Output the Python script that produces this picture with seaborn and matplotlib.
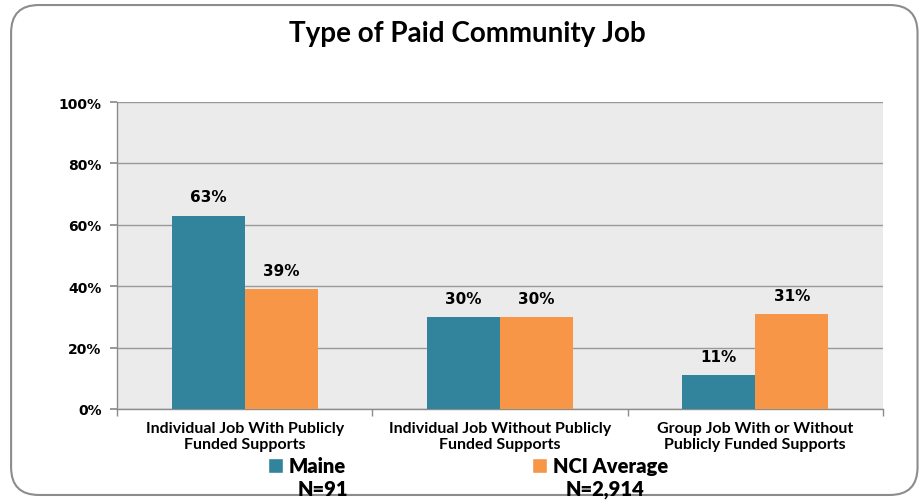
import matplotlib
matplotlib.use("Agg")
import matplotlib.pyplot as plt
import seaborn as sns
import pandas as pd
from matplotlib.patches import FancyBboxPatch, Patch
from matplotlib.font_manager import FontProperties

# dados
categorias = ["Individual Job With Publicly\nFunded Supports",
              "Individual Job Without Publicly\nFunded Supports",
              "Group Job With or Without\nPublicly Funded Supports"]
maine = [63, 30, 11]
nci = [39, 30, 31]
series = ["Maine", "NCI Average"]
n_labels = ["N=91", "N=2,914"]
yticks = [0, 20, 40, 60, 80, 100]

cor_maine = "#31849B"
cor_nci = "#F79646"

df = pd.DataFrame({
    "categoria": categorias * 2,
    "valor": maine + nci,
    "serie": [series[0]] * 3 + [series[1]] * 3,
})

sns.set_theme(style="white", rc={"text.color": "black", "xtick.color": "black",
                                 "ytick.color": "black", "axes.labelcolor": "black"})
plt.rcParams["font.family"] = ["DejaVu Sans"]

fig = plt.figure(figsize=(9.24, 5.02), dpi=100)
ax = fig.add_axes([0.1266, 0.1833, 0.829, 0.6115])

# moldura arredondada
borda = FancyBboxPatch((0.012, 0.012), 0.981, 0.976, boxstyle="round,pad=0,rounding_size=0.03",
                       transform=fig.transFigure, facecolor="white", edgecolor="#8C8C8C",
                       linewidth=1.5, zorder=-10, mutation_aspect=924 / 502)
fig.patches.append(borda)

sns.barplot(data=df, x="categoria", y="valor", hue="serie",
            palette=[cor_maine, cor_nci], width=0.572, saturation=1,
            ax=ax, legend=False, zorder=3, linewidth=0, edgecolor="none")

ax.set_facecolor("#EBEBEB")
ax.set_ylim(0, 100)
ax.set_xlim(-0.5, 2.5)
ax.set_yticks(yticks)
ax.set_yticklabels([f"{v}%" for v in yticks], fontsize=10, fontweight="bold")
ax.yaxis.grid(True, color="#999999", linewidth=1)
ax.set_axisbelow(True)
ax.set_xlabel("")
ax.set_ylabel("")
ax.tick_params(axis="y", length=5, color="#8C8C8C", left=True, pad=6)
ax.set_xticks(range(3))
ax.set_xticklabels(categorias, fontsize=11.5, fontweight="bold", linespacing=1.1,
                   family=["Lato", "DejaVu Sans"])
ax.tick_params(axis="x", length=0, pad=9)
ax.set_xticks([-0.5, 0.5, 1.5, 2.5], minor=True)
ax.tick_params(axis="x", which="minor", length=5, color="#8C8C8C", bottom=True)
for lado in ["top", "right"]:
    ax.spines[lado].set_visible(False)
for lado in ["left", "bottom"]:
    ax.spines[lado].set_color("#8C8C8C")
    ax.spines[lado].set_linewidth(1)

for cont in ax.containers:
    ax.bar_label(cont, labels=[f"{v:.0f}%" for v in cont.datavalues],
                 padding=8, fontsize=11, fontweight="bold")

fig.text(0.506, 0.932, "Type of Paid Community Job", ha="center", va="center",
         fontsize=20, fontweight="bold", family=["Lato", "DejaVu Sans"])

fonte_leg = FontProperties(family=["Lato", "DejaVu Sans"], weight="heavy", size=14.5)
for nome, cor, x0 in zip(series, [cor_maine, cor_nci], [0.29, 0.576]):
    fig.legend([Patch(facecolor=cor)], [nome], loc="center left",
               bbox_to_anchor=(x0, 0.07), frameon=False, handlelength=0.75,
               handleheight=0.75, handletextpad=0.3, borderaxespad=0,
               borderpad=0, prop=fonte_leg)
fig.text(0.35, 0.024, n_labels[0], ha="center", va="center", fontproperties=fonte_leg)
fig.text(0.655, 0.024, n_labels[1], ha="center", va="center", fontproperties=fonte_leg)

fig.savefig("out.png", dpi=100)
